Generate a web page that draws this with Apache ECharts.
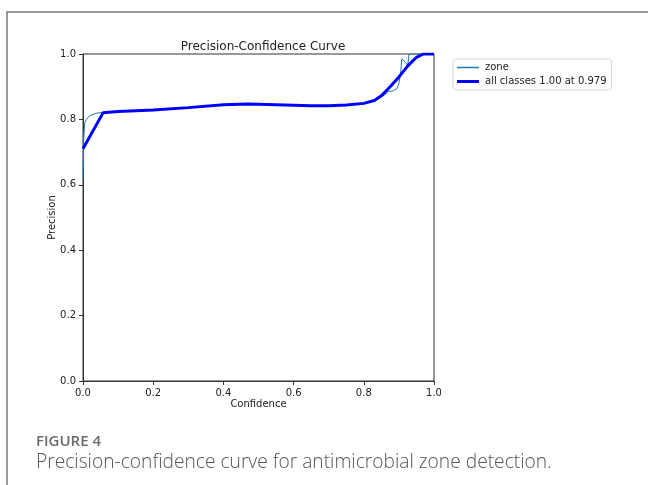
<!DOCTYPE html>
<html>
<head>
<meta charset="utf-8">
<script src="https://cdn.jsdelivr.net/npm/echarts@6/dist/echarts.min.js"></script>
<style>
  html, body { margin: 0; padding: 0; background: #fff; }
  #chart { width: 648px; height: 485px; }
</style>
</head>
<body>
<div id="chart"></div>
<script>
// values
var xTicks = [0, 0.2, 0.4, 0.6, 0.8, 1.0];
var yTicks = [0, 0.2, 0.4, 0.6, 0.8, 1.0];

var zoneConf = [0, 0.002, 0.005, 0.01, 0.02, 0.035, 0.05, 0.1, 0.2, 0.3, 0.4, 0.47, 0.55, 0.65, 0.7, 0.75, 0.8, 0.82, 0.84, 0.86, 0.87, 0.875, 0.885, 0.895, 0.9, 0.905, 0.908, 0.912, 0.918, 0.925, 0.928, 0.929, 1.0];
var zonePrec = [0.62, 0.74, 0.79, 0.80, 0.812, 0.818, 0.821, 0.824, 0.829, 0.836, 0.845, 0.847, 0.845, 0.842, 0.842, 0.844, 0.848, 0.853, 0.862, 0.876, 0.885, 0.882, 0.888, 0.895, 0.91, 0.94, 0.985, 0.99, 0.975, 0.965, 0.97, 1.0, 1.0];

var allConf = [0, 0.057, 0.1, 0.2, 0.3, 0.4, 0.47, 0.55, 0.65, 0.7, 0.75, 0.8, 0.83, 0.85, 0.875, 0.9, 0.925, 0.95, 0.97, 1.0];
var allPrec = [0.71, 0.82, 0.824, 0.829, 0.836, 0.845, 0.847, 0.845, 0.842, 0.842, 0.844, 0.849, 0.858, 0.872, 0.90, 0.93, 0.963, 0.99, 1.0, 1.0];

var pairs = function(xs, ys) {
  var out = [];
  for (var i = 0; i < xs.length; i++) out.push([xs[i], ys[i]]);
  return out;
};

var font = 'DejaVu Sans';
var chart = echarts.init(document.getElementById('chart'));

var axisCommon = {
  type: 'value',
  min: 0,
  max: 1,
  interval: 0.2,
  nameMoveOverlap: false,
  axisLine: { show: true, lineStyle: { color: '#333', width: 1 } },
  axisTick: { show: true, inside: false, length: 4, lineStyle: { color: '#333' } },
  splitLine: { show: false },
  axisLabel: {
    color: '#222', fontFamily: font, fontSize: 10, margin: 7,
    formatter: function(v) { return v.toFixed(1); }
  },
  nameTextStyle: { color: '#222', fontFamily: font, fontSize: 10 }
};

// legend line icons: invisible corner points keep the box 22x11, stroke band centred
var thinIcon = 'path://M0,0M0,4.75H22V6.25H0ZM22,11';
var thickIcon = 'path://M0,0M0,4H22V7H0ZM22,11';

chart.setOption({
  animation: false,
  title: {
    text: 'Precision-Confidence Curve',
    left: 258, top: 36, textAlign: 'center',
    textStyle: { fontFamily: font, fontSize: 12, fontWeight: 'normal', color: '#222' }
  },
  legend: {
    orient: 'vertical',
    left: 453, top: 59,
    padding: [3, 5, 3, 4],
    itemGap: 3,
    itemWidth: 24, itemHeight: 11,
    borderColor: '#d8d8d8', borderWidth: 1, borderRadius: 3,
    textStyle: { fontFamily: font, fontSize: 10, color: '#222' },
    data: [
      { name: 'zone', icon: thinIcon },
      { name: 'all classes 1.00 at 0.979', icon: thickIcon }
    ]
  },
  grid: { left: 83, top: 54, width: 351, height: 327, show: true, borderColor: '#333', borderWidth: 1 },
  xAxis: Object.assign({}, axisCommon, {
    name: 'Confidence', nameLocation: 'middle', nameGap: 18
  }),
  yAxis: Object.assign({}, axisCommon, {
    name: 'Precision', nameLocation: 'middle', nameGap: 26
  }),
  graphic: [
    { type: 'rect', shape: { x: 7, y: 12, width: 700, height: 520 }, style: { fill: 'none', stroke: '#777', lineWidth: 1.5 }, z: -1 },
    { type: 'text', x: 36, y: 434, style: { text: 'FIGURE 4', font: '600 15px "Open Sans"', fill: '#6a6a6a' } },
    { type: 'text', x: 36, y: 453, style: { text: 'Precision-confidence curve for antimicrobial zone detection.', font: '300 19.2px "Open Sans"', fill: '#555' } }
  ],
  series: [
    {
      name: 'zone', type: 'line', symbol: 'none',
      data: pairs(zoneConf, zonePrec),
      lineStyle: { color: '#1f77b4', width: 1 },
      itemStyle: { color: '#1f77b4' },
      z: 2
    },
    {
      name: 'all classes 1.00 at 0.979', type: 'line', symbol: 'none',
      data: pairs(allConf, allPrec),
      lineStyle: { color: '#0000ff', width: 3 },
      itemStyle: { color: '#0000ff' },
      z: 3
    }
  ]
});
</script>
</body>
</html>
